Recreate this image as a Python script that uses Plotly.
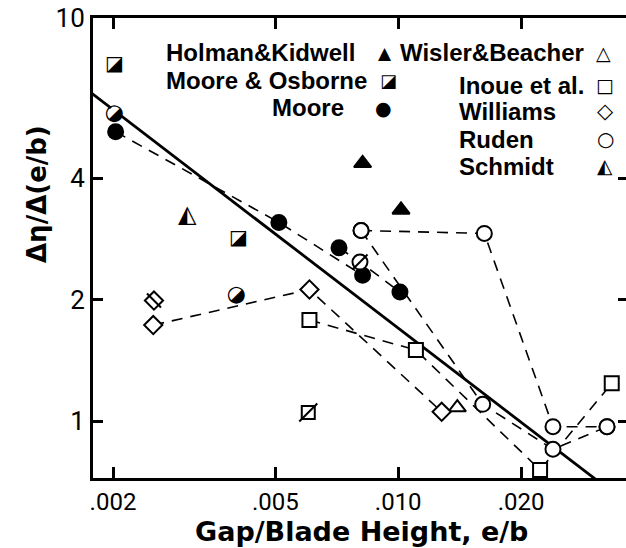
import math
import plotly.graph_objects as go

# ---------------- data ----------------
moore_x = [0.00203, 0.00510, 0.00716, 0.00818, 0.0101]
moore_y = [5.22, 3.11, 2.69, 2.30, 2.09]
moore_l1_x = [0.00203, 0.00510, 0.00818]
moore_l1_y = [5.22, 3.11, 2.30]
moore_l2_x = [0.00716, 0.00806, 0.0101]
moore_l2_y = [2.69, 2.48, 2.09]
moore_half_x = [0.00203, 0.00403]
moore_half_y = [5.83, 2.07]
moore_slash_x = [0.00806]
moore_slash_y = [2.48]

mo_x = [0.00202, 0.00407]          # Moore & Osborne
mo_y = [7.72, 2.86]
mo_slash_x = [0.00602]
mo_slash_y = [1.05]

hk_x = [0.00818, 0.01016]          # Holman & Kidwell
hk_y = [4.36, 3.34]
wb_x = [0.01396]                   # Wisler & Beacher
wb_y = [1.08]

inoue_x = [0.00606, 0.01105, 0.02227, 0.03337]
inoue_y = [1.78, 1.50, 0.756, 1.24]

williams_x = [0.00251, 0.00606, 0.01278]
williams_y = [1.73, 2.12, 1.054]
williams_split_x = [0.00252]
williams_split_y = [1.99]

ruden_a_x = [0.00811, 0.01626, 0.02395, 0.03249]
ruden_a_y = [2.97, 2.92, 0.968, 0.968]
ruden_b_x = [0.00811, 0.01611, 0.02395, 0.03249]
ruden_b_y = [2.97, 1.10, 0.851, 0.968]

schmidt_x = [0.00305]
schmidt_y = [3.26]

fit_x = [0.0017, 0.032]
fit_y = [6.72, 0.690]

x_tickvals = [0.002, 0.005, 0.010, 0.020]
x_ticktext = [".002", ".005", ".010", ".020"]
y_tickvals = [1, 2, 4, 10]
y_ticktext = ["1", "2", "4", "10"]

# ---------------- figure ----------------
W, H = 626, 548
ML, MR, MT, MB = 93, 0, 18, 70
PW, PH = W - ML - MR, H - MT - MB


def px(xp):
    return (xp - ML) / PW


def py(yp):
    return (MT + PH - yp) / PH


BLACK = "black"
dash = "11px,8px"
fig = go.Figure()


def dline(xs, ys):
    fig.add_trace(go.Scatter(x=xs, y=ys, mode="lines",
                             line=dict(color=BLACK, width=1.6, dash=dash),
                             hoverinfo="skip", showlegend=False))


# regression line
fig.add_trace(go.Scatter(x=fit_x, y=fit_y, mode="lines",
                         line=dict(color=BLACK, width=2.8), showlegend=False))
# dashed connecting lines
dline(moore_l1_x, moore_l1_y)
dline(moore_l2_x, moore_l2_y)
dline(williams_x, williams_y)
dline(inoue_x, inoue_y)
dline(ruden_a_x, ruden_a_y)
dline(ruden_b_x, ruden_b_y)


def mk(xs, ys, symbol, size, fill, lw=2):
    fig.add_trace(go.Scatter(x=xs, y=ys, mode="markers",
                             marker=dict(symbol=symbol, size=size, color=fill,
                                         line=dict(color=BLACK, width=lw)),
                             showlegend=False))


mk(moore_x, moore_y, "circle", 15, BLACK)
mk(moore_half_x, moore_half_y, "circle", 13, "white", 0)
mk(moore_slash_x, moore_slash_y, "circle", 15, "white")
mk(moore_slash_x, moore_slash_y, "line-ne", 15, "white", 2)
mk(mo_slash_x, mo_slash_y, "square", 13, "white")
mk(mo_slash_x, mo_slash_y, "line-ne", 18, "white", 2)
mk(hk_x, hk_y, "triangle-up", 15, BLACK)
mk(wb_x, wb_y, "triangle-up", 15, "white")
mk(inoue_x, inoue_y, "square", 14, "white")
mk(williams_x, williams_y, "diamond", 14, "white")
mk(williams_split_x, williams_split_y, "diamond", 14, "white")
mk(williams_split_x, williams_split_y, "line-nw", 14, "white", 2)
mk(ruden_a_x + ruden_b_x, ruden_a_y + ruden_b_y, "circle", 15, "white")

# empty trace for right-hand tick axis
fig.add_trace(go.Scatter(x=[], y=[], yaxis="y2", showlegend=False))

annotations = []


def glyph(xs, ys, ch, size, angle=0):
    for xv, yv in zip(xs, ys):
        annotations.append(dict(x=math.log10(xv), y=math.log10(yv),
                                xref="x", yref="y", text=ch, showarrow=False,
                                textangle=angle,
                                font=dict(family="DejaVu Sans", size=size, color=BLACK)))


# half-filled symbols drawn as glyphs at the data points
glyph(moore_half_x, moore_half_y, "◑", 22, 45)
glyph(mo_x, mo_y, "◪", 20)
glyph(schmidt_x, schmidt_y, "◭", 24)

LEG_FONT = dict(family="Liberation Sans, Arial, sans-serif", size=24, color=BLACK)
legend_text = [
    ("Holman&amp;Kidwell", 164, 52),
    ("Wisler&amp;Beacher", 398, 52),
    ("Moore &amp; Osborne", 164, 80),
    ("Moore", 270, 108),
    ("Inoue et al.", 457, 85),
    ("Williams", 457, 111),
    ("Ruden", 457, 139),
    ("Schmidt", 457, 166),
]
for t, xx, yy in legend_text:
    annotations.append(dict(x=px(xx), y=py(yy), xref="paper", yref="paper",
                            xanchor="left", yanchor="middle", text="<b>%s</b>" % t,
                            showarrow=False, font=LEG_FONT))
legend_syms = [
    ("▲", 385, 53, 17), ("△", 603, 53, 19), ("◪", 388, 80, 18), ("●", 383, 108, 19),
    ("□", 605, 85, 19), ("◇", 605, 111, 21), ("○", 605, 139, 20), ("◭", 605, 166, 20),
]
for s, xx, yy, fs in legend_syms:
    annotations.append(dict(x=px(xx), y=py(yy), xref="paper", yref="paper",
                            xanchor="center", yanchor="middle", text="<b>%s</b>" % s,
                            showarrow=False,
                            font=dict(family="DejaVu Sans", size=fs, color=BLACK)))

# axis titles
annotations.append(dict(x=px(361), y=py(531), xref="paper", yref="paper",
                        xanchor="center", yanchor="middle",
                        text="<b>Gap/Blade Height, e/b</b>", showarrow=False,
                        font=dict(family="DejaVu Sans", size=27, color=BLACK)))
annotations.append(dict(x=px(37), y=py(194), xref="paper", yref="paper",
                        xanchor="center", yanchor="middle", textangle=-90,
                        text="<b>Δη/Δ(e/b)</b>", showarrow=False,
                        font=dict(family="DejaVu Sans", size=26, color=BLACK)))

NARROW = "Liberation Sans Narrow, Arial Narrow, Roboto, sans-serif"
fig.update_layout(
    width=W, height=H, margin=dict(l=ML, r=MR, t=MT, b=MB),
    paper_bgcolor="white", plot_bgcolor="white", showlegend=False,
    xaxis=dict(type="log", range=[-2.748, -1.4417], tickvals=x_tickvals,
               ticktext=x_ticktext, ticks="inside", ticklen=11, tickwidth=3,
               tickcolor=BLACK, showline=True, linewidth=3, linecolor=BLACK,
               mirror="ticks", showgrid=False, zeroline=False,
               tickfont=dict(family=NARROW, size=24, color=BLACK)),
    yaxis=dict(type="log", range=[-0.1414, 1.0], tickvals=y_tickvals,
               ticktext=y_ticktext, ticks="inside", ticklen=10, tickwidth=3,
               tickcolor=BLACK, showline=True, linewidth=3, linecolor=BLACK,
               showgrid=False, zeroline=False,
               tickfont=dict(family=NARROW, size=26, color=BLACK)),
    yaxis2=dict(type="log", range=[-0.1414, 1.0], overlaying="y", side="right",
                tickvals=[1, 2, 4], ticks="inside", ticklen=8, tickwidth=3,
                tickcolor=BLACK, showline=False, showgrid=False, zeroline=False,
                showticklabels=False),
    annotations=annotations,
)

fig.write_html("out.html")
